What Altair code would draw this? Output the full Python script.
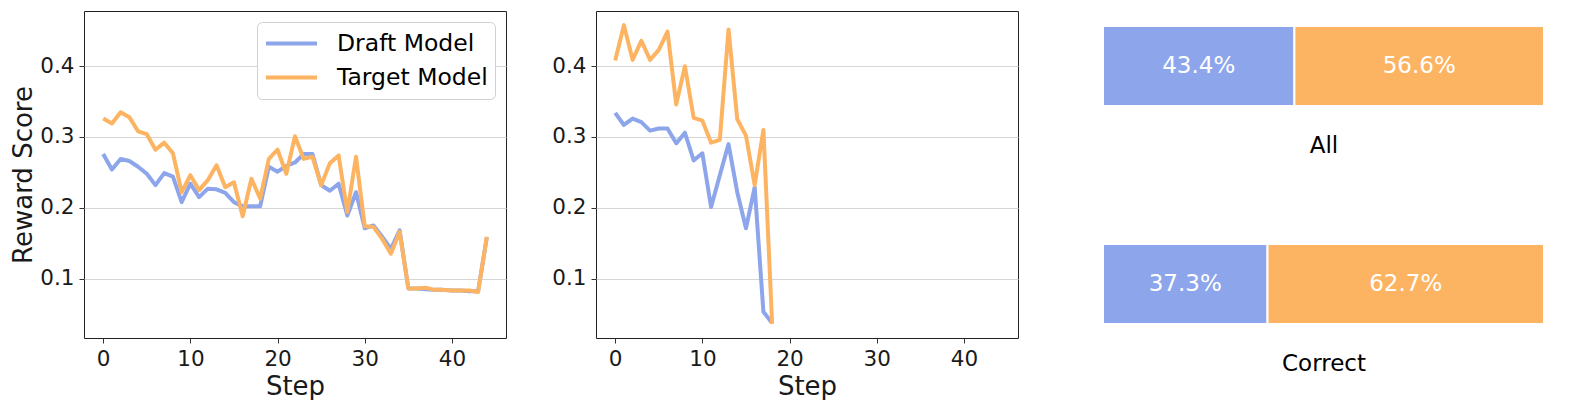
import altair as alt
import pandas as pd

# ---------------- data ----------------
models = ["Draft Model", "Target Model"]
colors = ["#8DA5EA", "#FDB462"]

left_steps = [0, 1, 2, 3, 4, 5, 6, 7, 8, 9, 10, 11, 12, 13, 14, 15, 16, 17, 18, 19, 20, 21, 22,
              23, 24, 25, 26, 27, 28, 29, 30, 31, 32, 33, 34, 35, 36, 37, 38, 39, 40, 41, 42, 43, 44]
left_draft = [0.276, 0.254, 0.269, 0.266, 0.258, 0.248, 0.232, 0.249, 0.244, 0.208, 0.234, 0.215,
              0.227, 0.226, 0.221, 0.208, 0.202, 0.202, 0.202, 0.258, 0.251, 0.259, 0.264, 0.276,
              0.276, 0.232, 0.224, 0.234, 0.189, 0.222, 0.171, 0.175, 0.159, 0.142, 0.168, 0.086,
              0.086, 0.085, 0.084, 0.084, 0.083, 0.083, 0.082, 0.082, 0.158]
left_target = [0.326, 0.319, 0.335, 0.328, 0.308, 0.304, 0.282, 0.292, 0.277, 0.222, 0.246, 0.225,
               0.239, 0.260, 0.229, 0.236, 0.188, 0.241, 0.213, 0.269, 0.282, 0.248, 0.301, 0.269,
               0.272, 0.232, 0.263, 0.274, 0.194, 0.272, 0.174, 0.173, 0.156, 0.135, 0.166, 0.086,
               0.086, 0.087, 0.084, 0.084, 0.083, 0.083, 0.083, 0.081, 0.159]

mid_steps = [0, 1, 2, 3, 4, 5, 6, 7, 8, 9, 10, 11, 12, 13, 14, 15, 16, 17, 18]
mid_draft = [0.334, 0.317, 0.326, 0.321, 0.309, 0.312, 0.312, 0.291, 0.306, 0.267, 0.277, 0.201,
             0.246, 0.290, 0.222, 0.171, 0.229, 0.053, 0.037]
mid_target = [0.408, 0.458, 0.409, 0.436, 0.409, 0.423, 0.449, 0.346, 0.400, 0.327, 0.323, 0.292,
              0.296, 0.452, 0.325, 0.302, 0.232, 0.310, 0.036]

bar_groups = ["All", "Correct"]
bar_draft = [43.4, 37.3]
bar_target = [56.6, 62.7]

x_ticks = [0, 10, 20, 30, 40]
y_ticks = [0.1, 0.2, 0.3, 0.4]
x_domain = [-2.2, 46.2]
y_domain = [0.016, 0.478]

FONT = "DejaVu Sans"
TXT = "#1a1a1a"


def long_df(steps, draft, target):
    rows = []
    for s, v in zip(steps, draft):
        rows.append({"step": s, "score": v, "model": models[0]})
    for s, v in zip(steps, target):
        rows.append({"step": s, "score": v, "model": models[1]})
    return pd.DataFrame(rows)


color_scale = alt.Scale(domain=models, range=colors)


def line_panel(df, show_title, show_legend):
    y_axis = alt.Axis(values=y_ticks, format=".1f",
                      title="Reward Score" if show_title else None,
                      grid=True, gridColor="#d6d6d6", gridWidth=1, domain=False,
                      tickSize=5, tickColor="#333333", labelFontSize=21.5, titleFontSize=26,
                      labelPadding=5, titlePadding=3, labelColor=TXT, titleColor=TXT,
                      titleFontWeight="normal")
    x_axis = alt.Axis(values=x_ticks, title="Step", grid=False, domain=False,
                      tickSize=5, tickColor="#333333", labelFontSize=21.5, titleFontSize=26,
                      labelPadding=5, titlePadding=4, labelColor=TXT, titleColor=TXT,
                      titleFontWeight="normal")
    if show_legend:
        legend = alt.Legend(title=None, orient="top-right", offset=11, labelFontSize=23.5,
                            labelLimit=400, labelColor="#000000", symbolType="stroke",
                            symbolSize=2600, symbolStrokeWidth=4, labelOffset=18,
                            clipHeight=29, rowPadding=5, padding=7,
                            strokeColor="#d0d0d0", cornerRadius=5, fillColor="white")
    else:
        legend = None
    return alt.Chart(df).mark_line(strokeWidth=4, strokeJoin="round").encode(
        x=alt.X("step:Q", scale=alt.Scale(domain=x_domain, nice=False, zero=False), axis=x_axis),
        y=alt.Y("score:Q", scale=alt.Scale(domain=y_domain, nice=False, zero=False), axis=y_axis),
        color=alt.Color("model:N", scale=color_scale, legend=legend),
        order=alt.Order("step:Q"),
    ).properties(width=422, height=327)


def bar_panel(i):
    cat = bar_groups[i]
    df = pd.DataFrame({"cat": [cat, cat], "model": models,
                       "pct": [bar_draft[i], bar_target[i]], "ord": [0, 1]})
    base = alt.Chart(df).transform_stack(
        stack="pct", groupby=["cat"], as_=["x0", "x1"], sort=[alt.SortField("ord")]
    ).transform_calculate(
        mid="(datum.x0 + datum.x1) / 2",
        label="format(datum.pct, '.1f') + '%'",
    )
    bars = base.mark_bar(size=80, stroke="white", strokeWidth=2).encode(
        x=alt.X("x0:Q", scale=alt.Scale(domain=[0, 100], nice=False, zero=False),
                axis=alt.Axis(title=cat, labels=False, ticks=False, domain=False, grid=False,
                              titleFontSize=23, titlePadding=13, titleFontWeight="normal",
                              titleColor="#000000")),
        x2="x1:Q",
        y=alt.Y("cat:N", axis=None),
        color=alt.Color("model:N", scale=color_scale, legend=None),
    )
    text = base.mark_text(fontSize=23, color="white", font=FONT).encode(
        x="mid:Q", y="cat:N", text="label:N"
    )
    return alt.layer(bars, text).properties(
        width=441, height=110, view=alt.ViewBackground(stroke="transparent")
    )


left = line_panel(long_df(left_steps, left_draft, left_target), True, True)
mid = line_panel(long_df(mid_steps, mid_draft, mid_target), False, False)
right = alt.vconcat(bar_panel(0), bar_panel(1), spacing=70).resolve_scale(color="independent")

inner = alt.hconcat(left, mid, spacing=44).resolve_scale(color="independent")

chart = alt.hconcat(
    inner, right, spacing=82
).resolve_scale(
    color="independent"
).properties(
    padding={"left": 2, "top": 2, "right": 0, "bottom": 0}
).configure_view(
    stroke="#222222", strokeWidth=1
).configure_axis(
    labelFont=FONT, titleFont=FONT
).configure_legend(
    labelFont=FONT
).configure_text(
    font=FONT
)

chart.save("out.html", embed_options={"renderer": "svg", "actions": False})
